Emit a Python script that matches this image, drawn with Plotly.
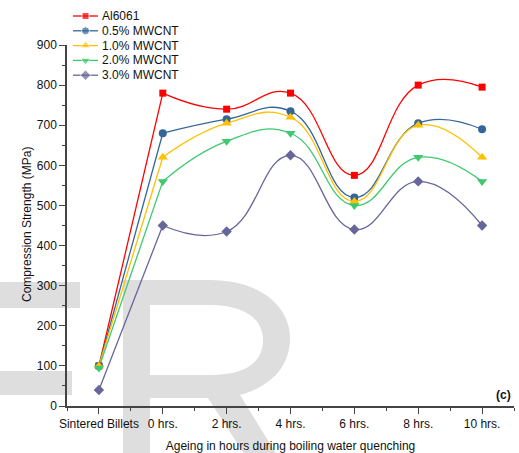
import plotly.graph_objects as go

# ---- data ----
categories = ["Sintered Billets", "0 hrs.", "2 hrs.", "4 hrs.", "6 hrs.", "8 hrs.", "10 hrs."]
al6061 = [100, 780, 740, 780, 575, 800, 795]
mwcnt_05 = [100, 680, 715, 735, 520, 705, 690]
mwcnt_10 = [100, 620, 705, 720, 510, 700, 620]
mwcnt_20 = [95, 560, 660, 680, 500, 620, 560]
mwcnt_30 = [40, 450, 435, 625, 440, 560, 450]
series_names = ["Al6061", "0.5% MWCNT", "1.0% MWCNT", "2.0% MWCNT", "3.0% MWCNT"]
series_values = [al6061, mwcnt_05, mwcnt_10, mwcnt_20, mwcnt_30]
y_ticks = list(range(0, 1000, 100))

# ---- styles ----
colors = ["#FF0000", "#336699", "#FFC000", "#3DC96E", "#66669A"]
symbols = ["square", "circle", "triangle-up", "triangle-down", "diamond"]
sizes = [7, 8, 9, 9, 8]
FONT = "Liberation Sans, Arial, sans-serif"
AXIS_COLOR = "#444444"
TXT = "#111111"

W, H = 519, 453
L, R, T, B = 67, 5, 0, 47
PW, PH = W - L - R, H - T - B          # plot box in px
MAIN_TOP = 45                           # px from top where y=900 sits

def px(xp, yp):
    """pixel coords -> paper coords"""
    return (xp - L) / PW, (PH - yp) / PH

x_idx = list(range(len(categories)))

fig = go.Figure()
for name, vals, c in zip(series_names, series_values, colors):
    # straight first segment (sintered -> 0 hrs)
    fig.add_trace(go.Scatter(
        x=x_idx[:2], y=vals[:2], mode="lines", line=dict(color=c, width=1.3),
        showlegend=False, hoverinfo="skip", xaxis="x", yaxis="y",
    ))
    # smooth curve through the ageing points
    fig.add_trace(go.Scatter(
        x=x_idx[1:], y=vals[1:], mode="lines",
        line=dict(color=c, width=1.3, shape="spline", smoothing=1.3),
        showlegend=False, hoverinfo="skip", xaxis="x", yaxis="y",
    ))
for name, vals, c, s, sz in zip(series_names, series_values, colors, symbols, sizes):
    fig.add_trace(go.Scatter(
        x=x_idx, y=vals, name=name, mode="markers",
        marker=dict(color=c, symbol=s, size=sz),
        showlegend=False, xaxis="x", yaxis="y",
    ))

# ---- legend (drawn on a pixel-scaled overlay axis) ----
leg_y0, leg_dy = 16, 14.8
for i, (name, c, s, sz) in enumerate(zip(series_names, colors, symbols, sizes)):
    yy = leg_y0 + i * leg_dy
    fig.add_trace(go.Scatter(
        x=[73, 85.5, 98], y=[yy, yy, yy], mode="lines+markers",
        line=dict(color=c, width=1.3), marker=dict(color=c, symbol=s, size=[0, sz, 0]),
        showlegend=False, hoverinfo="skip", xaxis="x2", yaxis="y2",
    ))
    fig.add_annotation(x=100, y=yy, xref="x2", yref="y2", text=name, showarrow=False,
                       xanchor="left", yanchor="middle",
                       font=dict(family=FONT, size=12, color=TXT))

fig.add_annotation(x=513, y=395, xref="x2", yref="y2", text="<b>(c)</b>", showarrow=False,
                   xanchor="right", yanchor="middle",
                   font=dict(family=FONT, size=12, color=TXT))

# ---- watermark (background decoration) ----
def path_from(points_cmds):
    out = []
    for cmd, pts in points_cmds:
        coords = []
        for (a, b) in pts:
            xp, yp = px(a, b)
            coords.append(f"{xp:.5f},{yp:.5f}")
        out.append(cmd + " ".join(coords))
    return " ".join(out)

r_path = path_from([
    ("M", [(123, 460)]), ("L", [(123, 280)]), ("L", [(210, 280)]),
    ("C", [(260, 280), (290, 306), (290, 338)]),
    ("C", [(290, 366), (272, 386), (240, 395)]),
    ("L", [(280, 460)]), ("L", [(248, 460)]), ("L", [(208, 398)]),
    ("L", [(150, 398)]), ("L", [(150, 460)]), ("Z", []),
    ("M", [(150, 305)]), ("L", [(210, 305)]),
    ("C", [(246, 305), (263, 320), (263, 340)]),
    ("C", [(263, 362), (246, 375), (210, 375)]),
    ("L", [(150, 375)]), ("Z", []),
])
wm = "#DEDEDE"
fig.add_shape(type="path", path=r_path, xref="paper", yref="paper", layer="below",
              fillcolor=wm, line=dict(width=0), fillrule="evenodd")
for (x0, y0, x1, y1) in [(0, 282, 80, 308), (0, 371, 72, 395)]:
    a0, b0 = px(x0, y0)
    a1, b1 = px(x1, y1)
    fig.add_shape(type="rect", x0=a0, y0=b1, x1=a1, y1=b0, xref="paper", yref="paper",
                  layer="below", fillcolor=wm, line=dict(width=0))

# y-axis title placed as rotated text so it sits where the reference has it
tx, ty = px(27, 225)
fig.add_annotation(x=tx, y=ty, xref="paper", yref="paper", text="Compression Strength (MPa)",
                   showarrow=False, textangle=-90, xanchor="center", yanchor="middle",
                   font=dict(family=FONT, size=12, color=TXT))

fig.update_layout(
    width=W, height=H,
    margin=dict(l=L, r=R, t=T, b=B, pad=0, autoexpand=False),
    paper_bgcolor="white", plot_bgcolor="rgba(0,0,0,0)",
    font=dict(family=FONT, size=12, color=TXT),
    showlegend=False,
    xaxis=dict(
        domain=[0, 1], range=[-0.5, len(categories) - 0.5],
        tickmode="array", tickvals=x_idx, ticktext=categories,
        showline=True, linecolor=AXIS_COLOR, linewidth=1.5,
        ticks="outside", ticklen=6, tickwidth=1.2, tickcolor=AXIS_COLOR,
        minor=dict(tickmode="linear", tick0=-0.5, dtick=1, ticks="outside",
                   ticklen=3, tickwidth=1.2, tickcolor=AXIS_COLOR),
        showgrid=False, zeroline=False, anchor="y", automargin=False,
        tickfont=dict(family=FONT, size=12, color=TXT),
        title=dict(text="Ageing in hours during boiling water quenching", standoff=11,
                   font=dict(family=FONT, size=12, color=TXT)),
    ),
    yaxis=dict(
        domain=[0, (PH - MAIN_TOP) / PH], range=[0, 900],
        tickmode="array", tickvals=y_ticks,
        showline=True, linecolor=AXIS_COLOR, linewidth=1.5,
        ticks="outside", ticklen=6, tickwidth=1.2, tickcolor=AXIS_COLOR,
        minor=dict(tickmode="linear", tick0=50, dtick=100, ticks="outside",
                   ticklen=3, tickwidth=1.2, tickcolor=AXIS_COLOR),
        showgrid=False, zeroline=False, anchor="x", automargin=False,
        tickfont=dict(family=FONT, size=12, color=TXT),
    ),
    xaxis2=dict(domain=[0, 1], range=[L, W - R], visible=False, anchor="y2"),
    yaxis2=dict(domain=[0, 1], range=[PH, 0], visible=False, anchor="x2"),
)

fig.write_html("out.html", config={"displayModeBar": False},
               post_script="document.body.style.margin='0px';document.body.style.overflow='hidden';")
